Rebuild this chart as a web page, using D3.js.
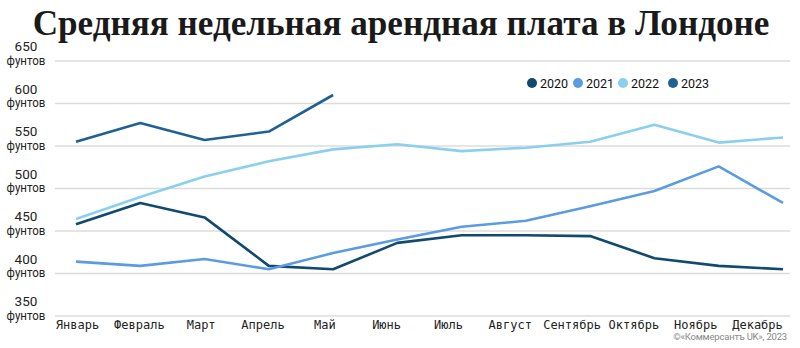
<!DOCTYPE html>
<html><head><meta charset="utf-8">
<script src="https://cdn.jsdelivr.net/npm/d3@7"></script>
<style>body{margin:0;background:#fff}svg{display:block}</style>
</head><body>
<svg id="c" width="800" height="348"></svg>
<script>
const title = "Средняя недельная арендная плата в Лондоне";
const months = ["Январь","Февраль","Март","Апрель","Май","Июнь","Июль","Август","Сентябрь","Октябрь","Ноябрь","Декабрь"];
const years = ["2020","2021","2022","2023"];
const colors = ["#114a6e","#5b9be0","#8ad0ee","#1f6193"];
const yTicks = [350,400,450,500,550,600,650];
const unit = "фунтов";
const v2020 = [458,483,466,409,405,436,445,445,444,418,409,405];
const v2021 = [414,409,417,405,424,440,455,462,479,497,526,483];
const v2022 = [464,490,514,532,546,552,544,548,555,575,554,560];
const v2023 = [555,577,557,567,610];
const credit = "©«Коммерсантъ UK», 2023";

const series = [v2020, v2021, v2022, v2023];

const svg = d3.select("#c");
const x = d3.scalePoint().domain(months).range([76, 783]);
const xLab = d3.scalePoint().domain(months).range([77, 757]);
const y = d3.scaleLinear().domain([350, 650]).range([316, 61]);

// title
const t = svg.append("text").attr("x", 401).attr("y", 35).attr("text-anchor","middle")
  .attr("font-family","Liberation Serif, DejaVu Serif, serif").attr("font-weight","bold")
  .attr("font-size", 32).attr("fill","#1a1a1a").text(title);
const tw = t.node().getComputedTextLength();
t.attr("font-size", 32 * 737 / tw);

// gridlines
svg.append("g").selectAll("line").data(yTicks).join("line")
  .attr("x1", 55).attr("x2", 790)
  .attr("y1", d => y(d)).attr("y2", d => y(d))
  .attr("stroke", "#dcdcdc").attr("stroke-width", 1.5);

// y labels
const yl = svg.append("g").attr("font-family","Roboto, sans-serif").attr("fill","#222");
yl.selectAll("text.n").data(yTicks).join("text").attr("class","n")
  .attr("x", 26).attr("y", d => y(d) - 10).attr("text-anchor","middle")
  .attr("font-size", 13.5).text(d => d);
yl.selectAll("text.u").data(yTicks).join("text").attr("class","u")
  .attr("x", 26).attr("y", d => y(d) + 4).attr("text-anchor","middle")
  .attr("font-size", 12.5).attr("transform", "translate(26,0) scale(0.92,1) translate(-26,0)")
  .text(unit);

// x axis labels
const xAxis = d3.axisBottom(xLab).tickSize(0).tickPadding(0);
const gx = svg.append("g").attr("transform","translate(0,318)").call(xAxis);
gx.select(".domain").remove();
gx.selectAll("text").attr("font-family","DejaVu Sans Mono, monospace").attr("font-size",12).attr("fill","#222").attr("dy","0.9em");

// lines
series.forEach((vals, i) => {
  const line = d3.line().x((d, j) => x(months[j])).y(d => y(d)).curve(d3.curveLinear);
  svg.append("path").datum(vals).attr("d", line)
    .attr("fill","none").attr("stroke", colors[i]).attr("stroke-width", 2.6)
    .attr("stroke-linejoin","round").attr("stroke-linecap","butt");
});

// legend
const legX = [532, 578, 623, 673];
const lg = svg.append("g");
years.forEach((yr, i) => {
  lg.append("circle").attr("cx", legX[i]).attr("cy", 83).attr("r", 5).attr("fill", colors[i]);
  lg.append("text").attr("x", legX[i] + 8).attr("y", 87.5).attr("font-family","Roboto, sans-serif")
    .attr("font-size", 12.5).attr("fill","#111").text(yr);
});

// credit
svg.append("text").attr("x", 787).attr("y", 340).attr("text-anchor","end")
  .attr("font-family","Roboto, sans-serif").attr("font-size", 9.5).attr("fill","#888")
  .attr("letter-spacing", -0.2).text(credit);
</script>
</body></html>
